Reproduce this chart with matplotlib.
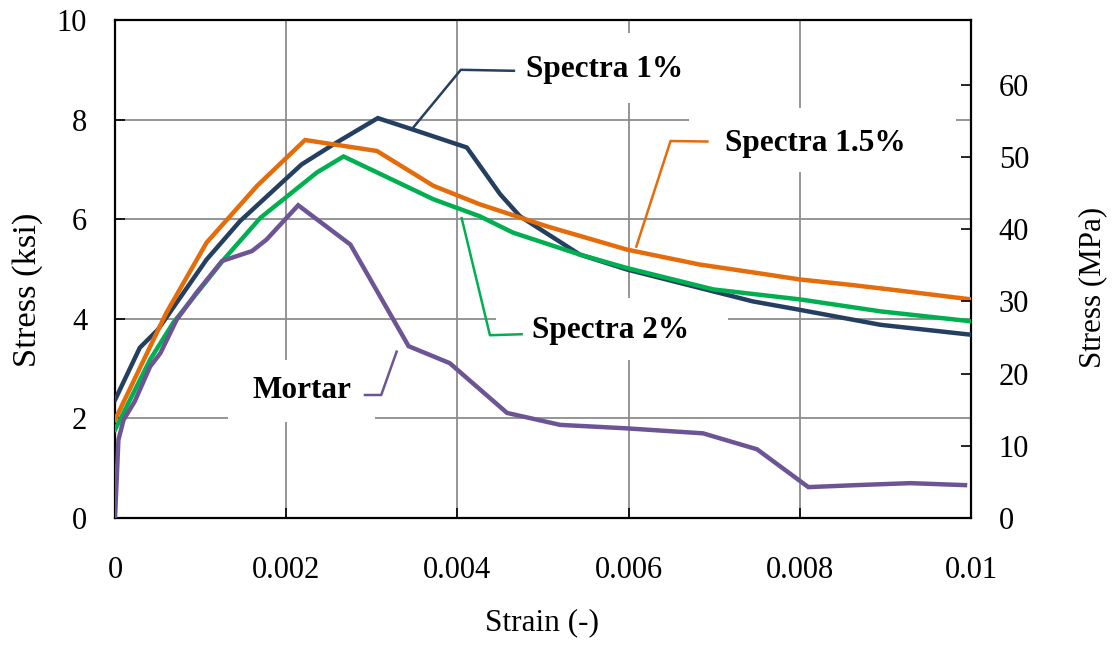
import matplotlib
matplotlib.use("Agg")
import matplotlib.pyplot as plt
from matplotlib.patches import Rectangle

# ---- data (strain [-], stress [ksi]) ----
s1_strain = [0.0, 0.00029, 0.00050, 0.00107, 0.00146, 0.00218, 0.00255, 0.00307,
             0.00348, 0.00411, 0.00450, 0.00473, 0.00543, 0.00598, 0.00745, 0.00800,
             0.00894, 0.01000]
s1_stress = [2.37, 3.42, 3.78, 5.19, 5.96, 7.10, 7.50, 8.03,
             7.80, 7.44, 6.50, 6.06, 5.29, 4.99, 4.35, 4.18,
             3.88, 3.68]

s15_strain = [0.0, 0.00060, 0.00107, 0.00166, 0.00222, 0.00306, 0.00372, 0.00426,
              0.00504, 0.00598, 0.00683, 0.00750, 0.00800, 0.00855, 0.00905, 0.01000]
s15_stress = [1.97, 4.12, 5.53, 6.67, 7.59, 7.37, 6.67, 6.30,
              5.86, 5.39, 5.09, 4.92, 4.79, 4.69, 4.59, 4.39]

s2_strain = [0.0, 0.00041, 0.00068, 0.00127, 0.00170, 0.00236, 0.00267, 0.00372,
             0.00426, 0.00465, 0.00543, 0.00598, 0.00699, 0.00800, 0.00894, 0.01000]
s2_stress = [1.77, 3.18, 3.92, 5.19, 6.03, 6.94, 7.26, 6.40,
             6.06, 5.73, 5.29, 5.02, 4.59, 4.39, 4.15, 3.95]

mortar_strain = [0.0, 0.00004, 0.00010, 0.00023, 0.00041, 0.00053, 0.00072, 0.00095,
                 0.00125, 0.00160, 0.00177, 0.00214, 0.00275, 0.00343, 0.00391, 0.00458,
                 0.00520, 0.00598, 0.00687, 0.00750, 0.00810, 0.00866, 0.00929, 0.00993]
mortar_stress = [0.0, 1.57, 1.97, 2.34, 3.04, 3.31, 3.98, 4.52,
                 5.16, 5.36, 5.59, 6.28, 5.49, 3.45, 3.11, 2.11,
                 1.87, 1.80, 1.70, 1.38, 0.62, 0.66, 0.70, 0.66]

series_names = ["Spectra 1%", "Spectra 1.5%", "Spectra 2%", "Mortar"]
series_colors = ["#243F60", "#E46C0A", "#00B050", "#6D5495"]

x_ticks = [0, 0.002, 0.004, 0.006, 0.008, 0.01]
x_ticklabels = ["0", "0.002", "0.004", "0.006", "0.008", "0.01"]
y_ticks = [0, 2, 4, 6, 8, 10]
mpa_ticks = [0, 10, 20, 30, 40, 50, 60]
KSI_PER_MPA = 1 / 6.894757

# ---- label layout (data coords) ----
label_text_pos = [(0.005716, 9.00), (0.008184, 7.53), (0.005791, 3.775), (0.002183, 2.57)]
label_boxes = [(0.00438, 8.33, 0.00706, 9.74),
               (0.00671, 6.95, 0.00982, 8.23),
               (0.00445, 3.17, 0.00716, 4.42),
               (0.00132, 1.93, 0.003036, 3.17)]
leaders = [
    ([0.003479, 0.00404, 0.00466], [7.83, 9.00, 8.98]),
    ([0.00609, 0.00649, 0.00692], [5.45, 7.57, 7.56]),
    ([0.00405, 0.00438, 0.00475], [6.02, 3.67, 3.69]),
    ([0.00329, 0.00311, 0.00292], [3.34, 2.47, 2.47]),
]

plt.rcParams['font.family'] = ['Liberation Serif', 'DejaVu Serif']
FS = 22

fig = plt.figure(figsize=(11.13, 6.45), dpi=100)
ax = fig.add_axes([115 / 1113, 1 - 518 / 645, (971 - 115) / 1113, (518 - 20) / 645])

ax.set_xlim(0, 0.01)
ax.set_ylim(0, 10)
ax.set_xticks(x_ticks)
ax.set_xticklabels(x_ticklabels)
ax.set_yticks(y_ticks)
ax.set_axisbelow(True)
ax.grid(True, color="#8C8C8C", linewidth=1.3, zorder=0.5)

for sp in ax.spines.values():
    sp.set_linewidth(1.6)
    sp.set_color("black")

ax.tick_params(axis="both", direction="in", length=7, width=1.2, labelsize=FS)
ax.tick_params(axis="x", pad=27)
ax.tick_params(axis="y", pad=20)

# white label boxes (hide grid)
for (x0, y0, x1, y1) in label_boxes:
    ax.add_patch(Rectangle((x0, y0), x1 - x0, y1 - y0, facecolor="white",
                           edgecolor="none", zorder=1))

all_x = [s1_strain, s15_strain, s2_strain, mortar_strain]
all_y = [s1_stress, s15_stress, s2_stress, mortar_stress]
for xs, ys, c in zip(all_x, all_y, series_colors):
    ax.plot(xs, ys, color=c, linewidth=3.2, solid_joinstyle="miter", zorder=3)

for (lx, ly), c in zip(leaders, series_colors):
    ax.plot(lx, ly, color=c, linewidth=1.8, zorder=4, clip_on=False)

for (tx, ty), name in zip(label_text_pos, series_names):
    ax.text(tx, ty, name, ha="center", va="center", fontsize=FS + 0.5,
            fontweight="bold", color="black", zorder=5)

ax.set_xlabel("Strain (-)", fontsize=FS + 0.5, va="top")
ax.xaxis.set_label_coords(0.4994, -0.181)
ax.set_ylabel("Stress (ksi)", fontsize=24.8, va="center")
ax.yaxis.set_label_coords(-0.1016, 0.458)

ax2 = ax.twinx()
ax2.set_ylim(0, 10 / KSI_PER_MPA)
ax2.set_yticks(mpa_ticks)
ax2.tick_params(axis="y", direction="in", length=7, width=1.2, labelsize=FS, pad=20)
for sp in ax2.spines.values():
    sp.set_visible(False)
ax2.set_ylabel("Stress (MPa)", fontsize=22.3, va="center")
ax2.yaxis.set_label_coords(1.142, 0.462)

fig.savefig("out.png", dpi=100)
